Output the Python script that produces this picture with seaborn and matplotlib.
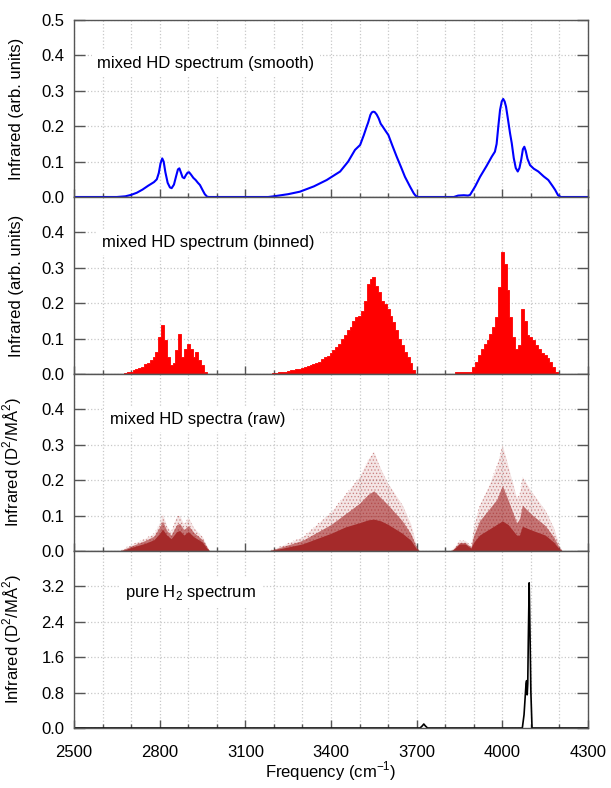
import matplotlib
matplotlib.use("Agg")
import matplotlib.pyplot as plt
import pandas as pd
import seaborn as sns
from matplotlib.ticker import MultipleLocator, FixedLocator

# ---- data ----
smooth_freq = [2500, 2650, 2680, 2700, 2720, 2740, 2760, 2780, 2790, 2797, 2803, 2809, 2814,
               2820, 2828, 2836, 2842, 2850, 2858, 2864, 2869, 2874, 2880, 2886, 2892, 2898,
               2903, 2910, 2918, 2926, 2934, 2941, 2950, 2958, 2966, 2972,
               3180, 3200, 3250, 3291, 3340, 3385, 3432, 3460, 3484, 3502, 3515, 3525, 3530,
               3538, 3543, 3548, 3553, 3560, 3567, 3574, 3581, 3590, 3601, 3615, 3630, 3645,
               3659, 3677, 3690, 3697, 3705,
               3830, 3845, 3865, 3880, 3887, 3905, 3922, 3945, 3963, 3974, 3980, 3986, 3992,
               3998, 4003, 4008, 4013, 4020, 4027, 4033, 4040, 4047, 4054, 4060, 4066, 4072,
               4077, 4082, 4088, 4097, 4110, 4126, 4145, 4161, 4175, 4185, 4195, 4205, 4300]
smooth_ir = [0.0, 0.0, 0.002, 0.006, 0.012, 0.021, 0.032, 0.042, 0.050, 0.068, 0.095, 0.109,
             0.100, 0.070, 0.040, 0.027, 0.025, 0.035, 0.060, 0.078, 0.081, 0.070, 0.056,
             0.053, 0.062, 0.069, 0.070, 0.063, 0.054, 0.048, 0.040, 0.034, 0.020, 0.008,
             0.001, 0.0,
             0.0, 0.002, 0.008, 0.015, 0.030, 0.048, 0.072, 0.100, 0.133, 0.147, 0.175,
             0.199, 0.210, 0.232, 0.239, 0.241, 0.240, 0.233, 0.222, 0.207, 0.199, 0.188,
             0.175, 0.145, 0.114, 0.085, 0.057, 0.029, 0.010, 0.003, 0.0,
             0.0, 0.004, 0.005, 0.004, 0.006, 0.030, 0.057, 0.088, 0.114, 0.128, 0.150,
             0.200, 0.246, 0.270, 0.277, 0.270, 0.255, 0.218, 0.180, 0.152, 0.110, 0.082,
             0.072, 0.082, 0.105, 0.135, 0.142, 0.130, 0.108, 0.090, 0.080, 0.072, 0.058,
             0.048, 0.032, 0.020, 0.005, 0.0, 0.0]

# binned spectrum, 10 cm-1 bins (bin centres)
bin_freq = [2680, 2690, 2700, 2710, 2720, 2730, 2740, 2750, 2760, 2770, 2780, 2790, 2800,
            2810, 2820, 2830, 2840, 2850, 2860, 2870, 2880, 2890, 2900, 2910, 2920, 2930,
            2940, 2950, 2960,
            3200, 3210, 3220, 3230, 3240, 3250, 3260, 3270, 3280, 3290, 3300, 3310, 3320,
            3330, 3340, 3350, 3360, 3370, 3380, 3390, 3400, 3410, 3420, 3430, 3440, 3450,
            3460, 3470, 3480, 3490, 3500, 3510, 3520, 3530, 3540, 3550, 3560, 3570, 3580,
            3590, 3600, 3610, 3620, 3630, 3640, 3650, 3660, 3670, 3680, 3690,
            3840, 3850, 3860, 3870, 3880, 3890, 3900, 3910, 3920, 3930, 3940, 3950, 3960,
            3970, 3980, 3990, 4000, 4010, 4020, 4030, 4040, 4050, 4060, 4070, 4080, 4090,
            4100, 4110, 4120, 4130, 4140, 4150, 4160, 4170, 4180, 4190]
bin_ir = [0.003, 0.005, 0.007, 0.010, 0.013, 0.016, 0.021, 0.027, 0.032, 0.039, 0.049, 0.063,
          0.105, 0.138, 0.095, 0.049, 0.025, 0.030, 0.067, 0.114, 0.049, 0.070, 0.086, 0.072,
          0.049, 0.063, 0.039, 0.025, 0.007,
          0.002, 0.004, 0.005, 0.006, 0.007, 0.009, 0.010, 0.012, 0.013, 0.015, 0.017,
          0.020, 0.022, 0.025, 0.027, 0.031, 0.035, 0.041, 0.047, 0.052, 0.060, 0.067,
          0.077, 0.086, 0.100, 0.109, 0.123, 0.133, 0.151, 0.161, 0.165, 0.179, 0.207,
          0.254, 0.268, 0.273, 0.250, 0.231, 0.207, 0.198, 0.184, 0.165, 0.147, 0.123,
          0.100, 0.081, 0.063, 0.049, 0.030, 0.011,
          0.005, 0.005, 0.006, 0.005, 0.005, 0.007, 0.021, 0.035, 0.053, 0.072, 0.086, 0.095,
          0.114, 0.133, 0.161, 0.245, 0.345, 0.310, 0.236, 0.161, 0.105, 0.072, 0.081, 0.185,
          0.151, 0.109, 0.105, 0.095, 0.081, 0.072, 0.058, 0.053, 0.044, 0.035, 0.021, 0.007]

# raw spectra: density layers of the point cloud (solid core, dense cloud, sparse edge)
raw_freq = [2660, 2680, 2700, 2750, 2780, 2800, 2810, 2825, 2840, 2860, 2870, 2885, 2900,
            2920, 2950, 2965, 2975, 3180, 3200, 3300, 3400, 3450, 3500, 3530, 3550, 3575,
            3600, 3650, 3680, 3700, 3710, 3820, 3830, 3850, 3870, 3890, 3900, 3920, 3950,
            3980, 4000, 4020, 4050, 4060, 4070, 4100, 4150, 4180, 4200, 4210]
raw_solid = [0.0, 0.004, 0.010, 0.022, 0.032, 0.050, 0.062, 0.045, 0.035, 0.055, 0.058,
             0.045, 0.055, 0.040, 0.025, 0.008, 0.0, 0.0, 0.003, 0.020, 0.050, 0.068, 0.080,
             0.088, 0.090, 0.085, 0.075, 0.050, 0.030, 0.005, 0.0, 0.0, 0.005, 0.020, 0.020,
             0.008, 0.025, 0.045, 0.060, 0.075, 0.085, 0.075, 0.045, 0.045, 0.070, 0.060,
             0.045, 0.025, 0.005, 0.0]
raw_dense = [0.0, 0.007, 0.014, 0.030, 0.042, 0.068, 0.085, 0.058, 0.045, 0.075, 0.078,
             0.060, 0.072, 0.052, 0.032, 0.012, 0.0, 0.0, 0.005, 0.030, 0.075, 0.105, 0.135,
             0.160, 0.170, 0.150, 0.130, 0.085, 0.048, 0.009, 0.0, 0.0, 0.007, 0.024, 0.024,
             0.011, 0.045, 0.085, 0.115, 0.145, 0.185, 0.145, 0.080, 0.090, 0.130, 0.105,
             0.072, 0.040, 0.009, 0.0]
raw_sparse = [0.0, 0.010, 0.018, 0.036, 0.050, 0.080, 0.105, 0.070, 0.055, 0.100, 0.100,
              0.075, 0.095, 0.065, 0.040, 0.015, 0.0, 0.0, 0.006, 0.040, 0.110, 0.160, 0.210,
              0.260, 0.280, 0.230, 0.190, 0.130, 0.075, 0.012, 0.0, 0.0, 0.010, 0.030, 0.030,
              0.015, 0.070, 0.130, 0.180, 0.240, 0.300, 0.240, 0.150, 0.160, 0.210, 0.170,
              0.115, 0.065, 0.015, 0.0]

h2_freq = [2500, 3712, 3720, 3725, 3730, 3738, 4070, 4076, 4080, 4083, 4085, 4087, 4089,
           4091, 4094, 4097, 4100, 4104, 4300]
h2_ir = [0.0, 0.0, 0.05, 0.09, 0.05, 0.0, 0.0, 0.3, 0.7, 1.0, 1.07, 0.75, 1.0, 2.0, 3.28,
         2.1, 0.8, 0.0, 0.0]

# ---- figure ----
sns.set_style("white")
plt.rcParams['font.family'] = ['Liberation Sans', 'DejaVu Sans']
plt.rcParams['mathtext.fontset'] = 'custom'
plt.rcParams['mathtext.rm'] = 'Liberation Sans'
plt.rcParams['hatch.linewidth'] = 0.6
plt.rcParams['text.color'] = 'black'
plt.rcParams['axes.labelcolor'] = 'black'
plt.rcParams['xtick.labelcolor'] = 'black'
plt.rcParams['ytick.labelcolor'] = 'black'

fig = plt.figure(figsize=(6.11, 7.88), dpi=100)
left, right, bottom, top = 74 / 611, 588 / 611, 1 - 728 / 788, 1 - 20 / 788
ph = (top - bottom) / 4
axes = [fig.add_axes([left, top - (i + 1) * ph, right - left, ph]) for i in range(4)]

spine_col = '#555555'
grid_col = '#c8c8c8'
fs = 12


def style_axis(ax, ymax, ystep, nlabels, ylabel):
    ax.set_xlim(2500, 4300)
    ax.set_ylim(0, ymax)
    ax.xaxis.set_major_locator(FixedLocator(list(range(2500, 4301, 300))))
    ax.xaxis.set_minor_locator(MultipleLocator(100))
    ticks = [round(i * ystep, 3) for i in range(nlabels)]
    ax.yaxis.set_major_locator(FixedLocator(ticks))
    ax.set_yticklabels([f"{t:.1f}" for t in ticks])
    ax.grid(True, which='both', axis='x', color=grid_col, linestyle=':', linewidth=0.9)
    ax.grid(True, which='major', axis='y', color=grid_col, linestyle=':', linewidth=0.9)
    ax.set_axisbelow(True)
    ax.tick_params(axis='y', which='major', direction='in', length=8, width=1,
                   left=True, right=True, color=spine_col, labelsize=fs, pad=7,
                   labelcolor='black')
    ax.tick_params(axis='x', which='major', direction='in', length=6, width=1,
                   bottom=True, top=False, color=spine_col, labelsize=fs, pad=12,
                   labelcolor='black')
    ax.tick_params(axis='x', which='minor', direction='in', length=3, width=1,
                   bottom=True, top=False, color=spine_col)
    for s in ax.spines.values():
        s.set_color(spine_col)
        s.set_linewidth(1.0)
    ax.set_ylabel(ylabel, fontsize=fs, color='black')
    ax.yaxis.set_label_coords(-0.098, 0.5)
    ax.set_xlabel('')


def label(ax, txt, x, y):
    ax.text(x, y, txt, transform=ax.transAxes, fontsize=fs, va='center', ha='left',
            color='black', zorder=5, bbox=dict(facecolor='white', edgecolor='none', pad=4))


# panel 1: smooth
ax = axes[0]
df_s = pd.DataFrame({'freq': smooth_freq, 'ir': smooth_ir})
sns.lineplot(data=df_s, x='freq', y='ir', ax=ax, color='#0000ff', linewidth=1.5)
style_axis(ax, 0.5, 0.1, 6, 'Infrared (arb. units)')
label(ax, 'mixed HD spectrum (smooth)', 0.045, 0.757)

# panel 2: binned
ax = axes[1]
df_b = pd.DataFrame({'freq': bin_freq, 'ir': bin_ir})
sns.histplot(data=df_b, x='freq', weights='ir', binwidth=10, binrange=(2675, 4195),
             ax=ax, color='#ff0000', alpha=1, element='step', linewidth=0.6,
             edgecolor='#ff0000')
style_axis(ax, 0.5, 0.1, 5, 'Infrared (arb. units)')
label(ax, 'mixed HD spectrum (binned)', 0.055, 0.744)

# panel 3: raw
ax = axes[2]
brown = '#a52a2a'
ax.fill_between(raw_freq, 0, raw_sparse, color=brown, alpha=0.12, linewidth=0)
ax.fill_between(raw_freq, 0, raw_sparse, facecolor='none', edgecolor=brown, hatch='.....',
                linewidth=0, alpha=0.45)
ax.fill_between(raw_freq, 0, raw_dense, color=brown, alpha=0.6, linewidth=0)
ax.fill_between(raw_freq, 0, raw_solid, color=brown, alpha=1, linewidth=0)
style_axis(ax, 0.5, 0.1, 5, 'Infrared (D$^2$/MÅ$^2$)')
label(ax, 'mixed HD spectra (raw)', 0.07, 0.743)

# panel 4: pure H2
ax = axes[3]
df_h = pd.DataFrame({'freq': h2_freq, 'ir': h2_ir})
sns.lineplot(data=df_h, x='freq', y='ir', ax=ax, color='black', linewidth=1.2)
style_axis(ax, 4.0, 0.8, 5, 'Infrared (D$^2$/MÅ$^2$)')
label(ax, 'pure H$_2$ spectrum', 0.1, 0.763)
ax.set_xlabel('Frequency (cm$^{-1}$)', fontsize=fs, labelpad=0, color='black')

for ax in axes[:3]:
    ax.tick_params(axis='x', labelbottom=False)

fig.savefig('out.png', dpi=100)
